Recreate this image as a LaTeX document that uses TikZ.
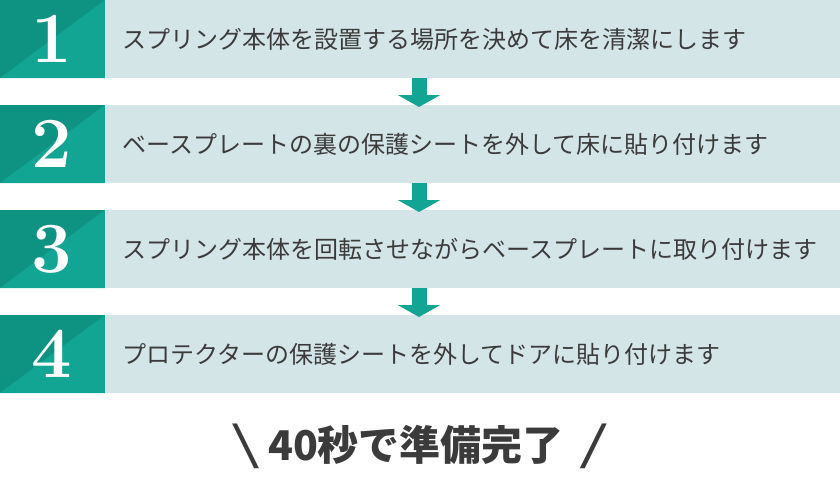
\documentclass[tikz,border=0pt]{standalone}
\usepackage{fontspec}
\usepackage{graphicx}
\newfontfamily\jpfont{Noto Sans CJK JP}
\usetikzlibrary{arrows.meta,positioning}
\definecolor{tealdark}{HTML}{0E9383}
\definecolor{teallight}{HTML}{13A594}
\definecolor{bandbg}{HTML}{D4E5E7}
\definecolor{txtgray}{HTML}{3B3B3B}

\begin{document}
\begin{tikzpicture}[x=1pt,y=-1pt,
        numbox/.style={fill=tealdark, minimum width=105pt, minimum height=78pt, inner sep=0pt, outer sep=0pt},
        band/.style={fill=bandbg, minimum width=735pt, minimum height=78pt, inner sep=0pt, outer sep=0pt},
        steptext/.style={font=\jpfont\fontsize{24}{28}\selectfont, text=txtgray, anchor=west, inner sep=0pt},
        flow/.style={draw=teallight, line width=15pt, -{Triangle[width=42pt,length=12pt]}}]
            \useasboundingbox (0,0) rectangle (840,480);
            \coordinate (ax) at (419,0);
            
            \foreach \n/\t in {1/スプリング本体を設置する場所を決めて床を清潔にします,
                               2/ベースプレートの裏の保護シートを外して床に貼り付けます,
                               3/スプリング本体を回転させながらベースプレートに取り付けます,
                               4/プロテクターの保護シートを外してドアに貼り付けます} {
                \node[numbox] (num\n) at (52.5, {105*(\n-1)+39}) {};
                \fill[teallight] (num\n.south west) -- (num\n.north east) -- (num\n.south east) -- cycle;
                \node[font=\bfseries\fontsize{72}{72}\selectfont, text=white] at ([xshift=-1pt]num\n) {\n};
                \node[band, right=0pt of num\n] (band\n) {};
                \node[steptext] (text\n) at ([xshift=17pt]band\n.west) {\t};
            }
            
            \foreach \a/\b in {1/2, 2/3, 3/4}
                \draw[flow] (band\a.south -| ax) -- ([yshift=-2pt]band\b.north -| ax);
            
            \node[font=\jpfont\bfseries\fontsize{41}{44}\selectfont, text=txtgray] (done) at (420, 446)
                {\scalebox{1.6}[1]{\mdseries\fontsize{46}{46}\selectfont\textbackslash}\hspace{8pt}40秒で準備完了\hspace{16pt}\scalebox{1.6}[1]{\mdseries\fontsize{46}{46}\selectfont/}};
        \end{tikzpicture}
\end{document}
